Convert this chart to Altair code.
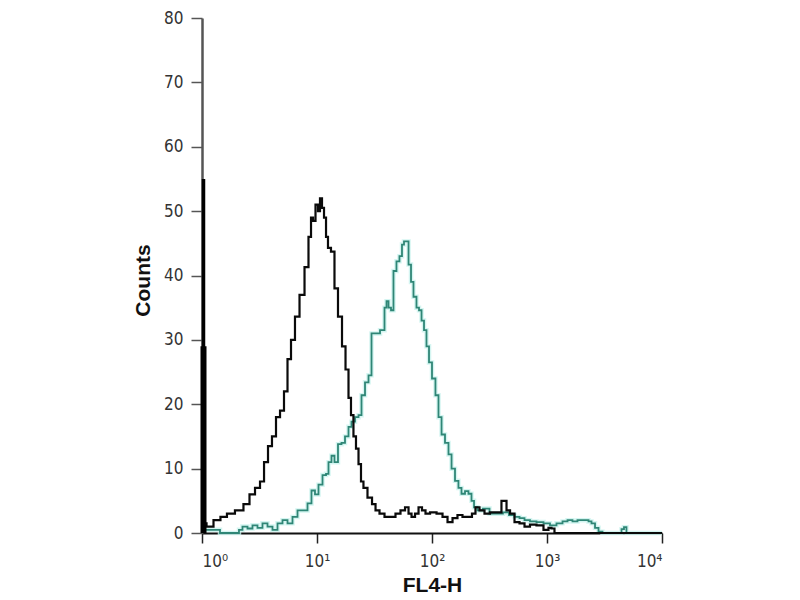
import altair as alt
import pandas as pd

# log10(FL4-H) position and counts
black_decade = [0.000, 0.009, 0.070, 0.130, 0.191, 0.243, 0.330, 0.391, 0.435, 0.487, 0.522,
                0.557, 0.591, 0.626, 0.661, 0.696, 0.730, 0.757, 0.791, 0.826, 0.870,
                0.913, 0.939, 0.957, 0.974, 1.000, 1.017, 1.035, 1.052, 1.070, 1.087,
                1.104, 1.139, 1.165, 1.200, 1.235, 1.261, 1.287, 1.304, 1.330, 1.348,
                1.374, 1.391, 1.417, 1.461, 1.496, 1.522, 1.565, 1.609, 1.661, 1.704,
                1.748, 1.783, 1.809, 1.835, 1.870, 1.896, 1.930, 1.957, 2.009, 2.070,
                2.113, 2.157, 2.200, 2.243, 2.287, 2.330, 2.365, 2.391, 2.435, 2.478,
                2.530, 2.591, 2.617, 2.635, 2.661, 2.696, 2.739, 2.783, 2.826, 2.878,
                2.939, 3.000, 3.026, 3.052, 3.078, 4.000]
black_count = [1.5, 1.5, 1.0, 2.0, 2.5, 3.0, 3.5, 4.5, 6, 7, 8,
               11, 13.5, 15, 18, 19, 22, 27, 30, 33.6, 37,
               41.3, 46, 49, 48.5, 51, 50, 52, 50.5, 49, 46,
               44.3, 43.7, 38, 33.6, 29, 25.4, 21, 18.3, 15, 13.1,
               10.7, 8, 7, 5.5, 4.5, 3.5, 3, 2.5, 2.5, 3,
               3.5, 4, 3, 2.5, 3, 4, 3.5, 3, 3.2, 3,
               2.5, 1.7, 2.3, 2.8, 2.5, 2.5, 3, 4, 3.5, 3,
               3.2, 3.2, 5, 5, 3.5, 3, 1.7, 1.5, 1, 1.3,
               1.2, 0.5, 0.8, 0.7, 0, 0]

teal_decade = [0.000, 0.313, 0.330, 0.374, 0.417, 0.461, 0.504, 0.548, 0.591, 0.635, 0.678,
               0.722, 0.765, 0.809, 0.852, 0.896, 0.939, 0.965, 1.000, 1.026, 1.070,
               1.087, 1.113, 1.139, 1.165, 1.200, 1.226, 1.261, 1.287, 1.313, 1.348,
               1.374, 1.400, 1.435, 1.461, 1.487, 1.522, 1.574, 1.600, 1.609, 1.635,
               1.652, 1.678, 1.704, 1.730, 1.748, 1.765, 1.783, 1.809, 1.826, 1.852,
               1.878, 1.896, 1.922, 1.939, 1.965, 1.983, 2.017, 2.043, 2.070, 2.096,
               2.130, 2.157, 2.183, 2.217, 2.243, 2.270, 2.304, 2.330, 2.357, 2.374,
               2.417, 2.470, 2.530, 2.591, 2.643, 2.696, 2.739, 2.783, 2.826, 2.878,
               2.939, 3.000, 3.052, 3.113, 3.157, 3.200, 3.243, 3.287, 3.348, 3.374,
               3.400, 3.435, 3.461, 3.504, 3.635, 3.661, 3.678, 3.704, 4.000]
teal_count = [0.5, 0, 0.5, 1, 0.7, 1.2, 0.8, 1.5, 1, 0.5, 1.5,
              2, 1.5, 2.5, 3.5, 3.5, 4.6, 6.6, 6, 7.5, 9,
              9.2, 11, 12, 11, 13.8, 14, 15, 16.5, 17.3, 18,
              18.3, 21.4, 23.4, 24.5, 31, 31, 31.5, 35, 36, 35,
              34.6, 40.7, 42.2, 43, 44.8, 45.3, 45.3, 41.7, 39, 36.7,
              35, 34.6, 33, 31.5, 29, 26.5, 24, 21.4, 18, 15.3,
              14, 12.2, 10, 8.1, 7, 6.1, 6.5, 6.1, 5, 4,
              3.5, 3.8, 3, 3, 3.2, 2.8, 2.5, 2.3, 2, 1.8,
              1.7, 1.5, 1.2, 1.5, 1.8, 2, 1.8, 2, 2, 1.8,
              1.5, 0.8, 0.2, 0, 0, 0.6, 0.9, 0, 0]

# first-channel pile-up at 10^0
spike_count = [55, 29]
spike_width = [3.5, 6]

y_ticks = [0, 10, 20, 30, 40, 50, 60, 70, 80]
x_ticks = [1, 10, 100, 1000, 10000]

black = pd.DataFrame({"decade": black_decade, "count": black_count})
black["fl"] = 10 ** black["decade"]
teal = pd.DataFrame({"decade": teal_decade, "count": teal_count})
teal["fl"] = 10 ** teal["decade"]
spikes = pd.DataFrame({"fl": [1, 1], "count": spike_count, "w": spike_width})

font = "DejaVu Sans Condensed, Liberation Sans Narrow, Liberation Sans, Arial"

x_enc = alt.X("fl:Q", scale=alt.Scale(type="log", domain=[1, 10000], nice=False),
              axis=alt.Axis(values=x_ticks, title="FL4-H", grid=False,
                            labelExpr="'10' + ['⁰','¹','²','³','⁴'][round(log(datum.value) / LN10)]",
                            labelFont=font, labelFontSize=17, labelColor="#333",
                            labelPadding=10, tickSize=10, tickColor="#222", tickWidth=1.5,
                            domainColor="#111", domainWidth=2,
                            titleFont="Liberation Sans", titleFontSize=21, titleFontWeight="bold",
                            titleColor="#111", titleY=52, titleBaseline="middle"))
y_enc = alt.Y("count:Q", scale=alt.Scale(domain=[0, 80], nice=False),
              axis=alt.Axis(values=y_ticks, title="Counts", grid=False,
                            labelFont=font, labelFontSize=17, labelColor="#333",
                            labelPadding=8, tickSize=11, tickColor="#555", tickWidth=1.5,
                            domainColor="#555", domainWidth=2.5,
                            titleFont="Liberation Sans", titleFontSize=21, titleFontWeight="bold",
                            titleColor="#111", titleX=-59, titleY=262, titleAngle=-90,
                            titleAlign="center", titleBaseline="middle"))

teal_halo = alt.Chart(teal).mark_line(interpolate="step", color="#c9f2ee", strokeWidth=4.5,
                                      opacity=0.8).encode(x=x_enc, y=y_enc)
teal_line = alt.Chart(teal).mark_line(interpolate="step", color="#2f8676", strokeWidth=1.8).encode(
    x="fl:Q", y="count:Q")
black_line = alt.Chart(black).mark_line(interpolate="step", color="#0a0a0a", strokeWidth=2.2).encode(
    x="fl:Q", y="count:Q")
spike = alt.Chart(spikes).mark_rule(color="#000", xOffset=1.5).encode(
    x="fl:Q", y=alt.Y("count:Q"), y2=alt.datum(0),
    strokeWidth=alt.StrokeWidth("w:Q", scale=None, legend=None))

chart = alt.layer(teal_halo, teal_line, black_line, spike).properties(
    width=460, height=515, autosize="none",
    padding={"left": 194, "top": 10, "right": 120, "bottom": 70},
).configure(background="white").configure_view(stroke=None)

chart.save("out.html", embed_options={"renderer": "svg", "actions": False})
